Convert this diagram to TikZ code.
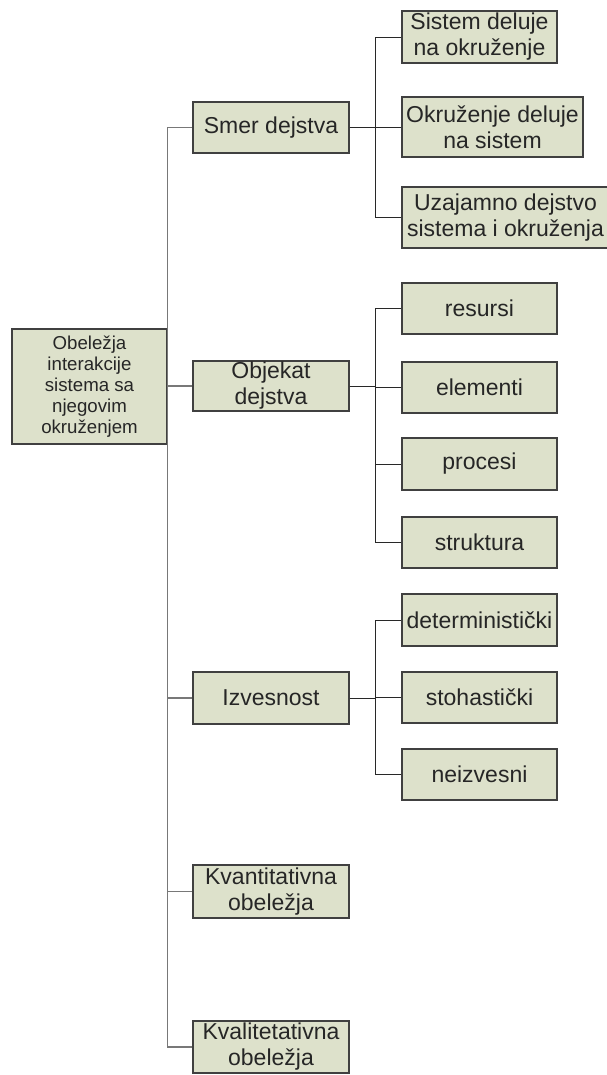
\documentclass[tikz,border=0pt]{standalone}
\usepackage{fontspec}
\setmainfont{Liberation Sans}
\definecolor{boxfill}{RGB}{221,225,203}
\definecolor{boxline}{RGB}{64,64,64}
\definecolor{busgray}{RGB}{120,120,120}
\definecolor{linkdark}{RGB}{40,40,40}
\begin{document}
\begin{tikzpicture}[x=0.75pt,y=-0.75pt,
  box/.style={draw=boxline,line width=0.8pt,fill=boxfill,text=black!85,
    inner sep=0pt,align=center,anchor=center,
    font=\fontsize{17.25pt}{19.5pt}\selectfont},
  rootbox/.style={box,font=\fontsize{14pt}{15.75pt}\selectfont},
  w2/.style={minimum width=117pt},
  w3/.style={minimum width=116.25pt},
  trunk/.style={draw=busgray,line width=0.9pt},
  link/.style={draw=linkdark,line width=0.75pt}]
\clip (0,0) rectangle (607,1075);

% root and first level
\node[rootbox,minimum width=116.25pt,minimum height=86.25pt] (root) at (89.5,386.5)
  {Obeležja\\interakcije\\sistema sa\\njegovim\\okruženjem};
\node[box,w2,minimum height=38.25pt] (smer) at (271,127.5) {Smer dejstva};
\node[box,w2,minimum height=37.5pt] (obj) at (271,386) {Objekat\\dejstva};
\node[box,w2,minimum height=39pt] (izv) at (271,698) {Izvesnost};
\node[box,w2,minimum height=39.75pt] (kvant) at (271,891.5) {Kvantitativna\\obeležja};
\node[box,w2,minimum height=39pt] (kval) at (271,1047) {Kvalitetativna\\obeležja};

% second level: direction of action
\node[box,w3,minimum height=39pt] (sis) at (479.5,37) {Sistem deluje\\na okruženje};
\node[box,minimum width=135.75pt,minimum height=45pt] (okr) at (492.5,127) {Okruženje deluje\\na sistem};
\node[box,minimum width=155.25pt,minimum height=45.75pt] (uzaj) at (505.5,217.5) {Uzajamno dejstvo\\sistema i okruženja};

% second level: object of action
\node[box,w3,minimum height=38.25pt] (res) at (479.5,308.5) {resursi};
\node[box,w3,minimum height=38.25pt] (ele) at (479.5,387.5) {elementi};
\node[box,w3,minimum height=39pt] (pro) at (479.5,464) {procesi};
\node[box,w3,minimum height=38.25pt] (str) at (479.5,542.5) {struktura};

% second level: certainty
\node[box,w3,minimum height=39pt] (det) at (479.5,620) {deterministički};
\node[box,w3,minimum height=38.25pt] (sto) at (479.5,697.5) {stohastički};
\node[box,w3,minimum height=38.25pt] (nei) at (479.5,774.5) {neizvesni};

% connectors from the root
\foreach \c in {smer,obj,izv,kvant,kval}
  \draw[trunk] (root.east) |- (\c.west);

% connectors to the second level
\foreach \c in {sis,okr,uzaj}
  \draw[link] (smer.east) -- ++(26,0) |- (\c.west);
\foreach \c in {res,ele,pro,str}
  \draw[link] (obj.east) -- ++(26,0) |- (\c.west);
\foreach \c in {det,sto,nei}
  \draw[link] (izv.east) -- ++(26,0) |- (\c.west);
\end{tikzpicture}
\end{document}
